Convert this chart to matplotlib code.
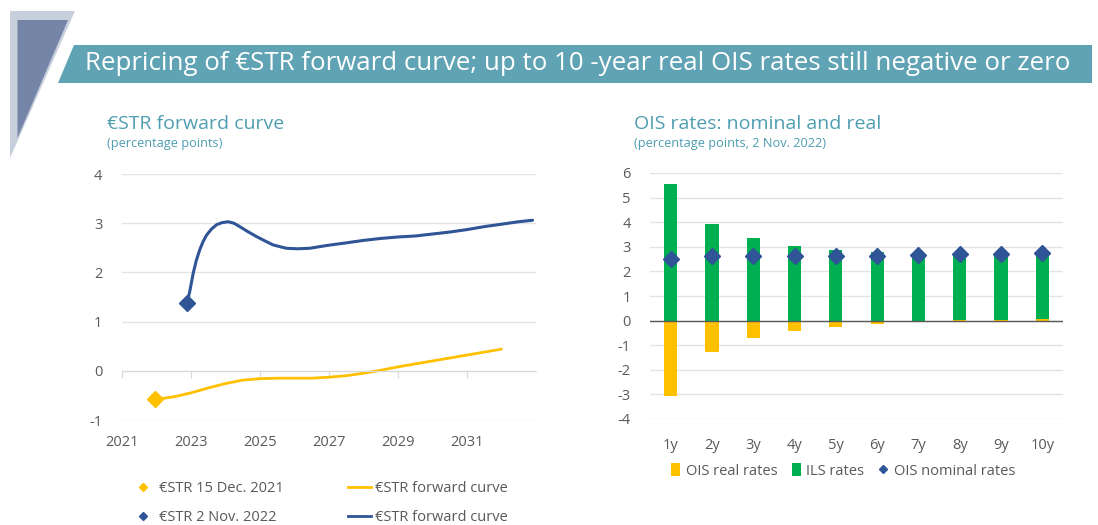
import matplotlib.pyplot as plt
from matplotlib.patches import Polygon, Patch
from matplotlib.lines import Line2D

plt.rcParams['font.family'] = ['Open Sans', 'DejaVu Sans']
plt.rcParams['axes.unicode_minus'] = False

W, H = 1098, 525

# left chart: €STR forward curves (year, pp)
fwd_2021_x = [2021.97, 2022.5, 2023.0, 2023.5, 2024.0, 2024.5, 2025.0, 2025.5, 2026.0, 2026.5,
              2027.0, 2027.5, 2028.0, 2028.5, 2029.0, 2029.5, 2030.0, 2030.5, 2031.0, 2031.5, 2032.0]
fwd_2021_y = [-0.58, -0.53, -0.45, -0.35, -0.26, -0.19, -0.16, -0.15, -0.15, -0.15,
              -0.13, -0.10, -0.05, 0.01, 0.08, 0.14, 0.20, 0.26, 0.32, 0.38, 0.44]
fwd_2022_x = [2022.9, 2022.97, 2023.07, 2023.16, 2023.26, 2023.36, 2023.46, 2023.6, 2023.75, 2023.9,
              2024.08, 2024.25, 2024.42, 2024.65, 2024.9, 2025.15, 2025.38, 2025.6, 2025.77, 2026.1,
              2026.44, 2026.97, 2027.5, 2028.0, 2028.5, 2029.0, 2029.5, 2030.0, 2030.5,
              2031.0, 2031.5, 2032.0, 2032.5, 2032.9]
fwd_2022_y = [1.40, 1.61, 1.98, 2.24, 2.46, 2.63, 2.76, 2.88, 2.97, 3.01,
              3.03, 3.00, 2.93, 2.83, 2.73, 2.64, 2.56, 2.52, 2.49, 2.48,
              2.49, 2.55, 2.60, 2.65, 2.69, 2.72, 2.74, 2.78, 2.82,
              2.87, 2.93, 2.98, 3.03, 3.06]
spot_dates = [2021.97, 2022.9]
spot_rates = [-0.58, 1.38]
year_ticks = [2021, 2023, 2025, 2027, 2029, 2031]

# right chart: OIS rates by tenor
tenors = ['1y', '2y', '3y', '4y', '5y', '6y', '7y', '8y', '9y', '10y']
ois_real = [-3.05, -1.28, -0.71, -0.42, -0.25, -0.15, -0.07, 0.01, 0.02, 0.08]
ils = [5.55, 3.92, 3.34, 3.05, 2.89, 2.79, 2.73, 2.70, 2.69, 2.67]
ois_nominal = [2.50, 2.64, 2.63, 2.63, 2.64, 2.64, 2.66, 2.71, 2.71, 2.75]

YELLOW = '#ffc000'
GREEN = '#00b050'
BLUE = '#2f5597'
TEAL = '#4e9db1'
GREY = '#595959'
GRID = '#e3e3e3'


def fx(x):
    return x / W


def fy(y):
    return 1 - y / H


fig = plt.figure(figsize=(W / 100, H / 100), dpi=100)

# decorative shapes and title banner
fig.add_artist(Polygon([(fx(10), fy(11)), (fx(75), fy(11)), (fx(10), fy(158))],
                       transform=fig.transFigure, facecolor='#c7cfdd', edgecolor='none'))
fig.add_artist(Polygon([(fx(17.5), fy(20)), (fx(68), fy(20)), (fx(17.5), fy(138))],
                       transform=fig.transFigure, facecolor='#7485a7', edgecolor='none'))
fig.add_artist(Polygon([(fx(58), fy(83)), (fx(74), fy(45)), (fx(1092), fy(45)), (fx(1092), fy(83))],
                       transform=fig.transFigure, facecolor='#5fa3b4', edgecolor='none'))
fig.text(fx(578), fy(63), 'Repricing of €STR forward curve; up to 10 -year real OIS rates still negative or zero',
         color='white', fontsize=18.6, ha='center', va='center')

fig.text(fx(107), fy(124), '€STR forward curve', color=TEAL, fontsize=14, ha='left', va='center')
fig.text(fx(107), fy(143), '(percentage points)', color=TEAL, fontsize=9.2, ha='left', va='center')
fig.text(fx(634), fy(124), 'OIS rates: nominal and real', color=TEAL, fontsize=14, ha='left', va='center')
fig.text(fx(634), fy(143), '(percentage points, 2 Nov. 2022)', color=TEAL, fontsize=9.2, ha='left', va='center')

# left chart
ax1 = fig.add_axes([fx(121.7), fy(420), fx(536 - 121.7), (420 - 174) / H])
ax1.plot(fwd_2021_x, fwd_2021_y, color=YELLOW, lw=2, solid_capstyle='round')
ax1.plot(fwd_2022_x, fwd_2022_y, color=BLUE, lw=2.2, solid_capstyle='round', solid_joinstyle='round')
ax1.plot(spot_dates[0], spot_rates[0], 'D', color=YELLOW, ms=8.5)
ax1.plot(spot_dates[1], spot_rates[1], 'D', color=BLUE, ms=8.5)
ax1.set_xlim(2021, 2033)
ax1.set_ylim(-1, 4)
ax1.set_yticks([-1, 0, 1, 2, 3, 4])
ax1.set_xticks(year_ticks)
ax1.grid(axis='y', color=GRID, lw=1)
for s in ['top', 'right', 'left']:
    ax1.spines[s].set_visible(False)
ax1.spines['bottom'].set_position(('data', 0))
ax1.spines['bottom'].set_color('#d9d9d9')
ax1.tick_params(axis='x', colors='#d9d9d9', length=5, pad=41, labelcolor=GREY, labelsize=10.5)
ax1.tick_params(axis='y', length=0, pad=14, labelcolor=GREY, labelsize=10.5)
ax1.set_axisbelow(True)

# right chart
ax2 = fig.add_axes([fx(650), fy(419), fx(1063 - 650), (419 - 173) / H])
pos = list(range(len(tenors)))
green_bottom = [max(r, 0) for r in ois_real]
ax2.bar(pos, ois_real, width=0.32, color=YELLOW, zorder=2)
ax2.bar(pos, ils, width=0.32, bottom=green_bottom, color=GREEN, zorder=2)
ax2.plot(pos, ois_nominal, 'D', color=BLUE, ms=8.5, ls='none', zorder=3)
ax2.axhline(0, color=GREY, lw=1, zorder=2.5)
ax2.set_xlim(-0.5, len(tenors) - 0.5)
ax2.set_ylim(-4, 6)
ax2.set_yticks(range(-4, 7))
ax2.set_xticks(pos, tenors)
ax2.grid(axis='y', color=GRID, lw=1)
for s in ['top', 'right', 'left', 'bottom']:
    ax2.spines[s].set_visible(False)
ax2.tick_params(axis='x', length=0, pad=14, labelcolor=GREY, labelsize=10.5)
ax2.tick_params(axis='y', length=0, pad=14, labelcolor=GREY, labelsize=10.5)
ax2.set_axisbelow(True)

# legends
left_handles = [
    Line2D([], [], marker='D', color=YELLOW, ls='none', ms=4),
    Line2D([], [], marker='D', color=BLUE, ls='none', ms=4),
    Line2D([], [], color=YELLOW, lw=2),
    Line2D([], [], color=BLUE, lw=2),
]
left_labels = ['€STR 15 Dec. 2021', '€STR 2 Nov. 2022', '€STR forward curve', '€STR forward curve']
fig.legend(left_handles, left_labels, ncol=2, frameon=False, loc='center left',
           bbox_to_anchor=(fx(118), fy(503)), fontsize=10.5, labelcolor=GREY,
           handlelength=1.6, handletextpad=0.3, columnspacing=4.4, labelspacing=0.95)

right_handles = [
    Patch(facecolor=YELLOW),
    Patch(facecolor=GREEN),
    Line2D([], [], marker='D', color=BLUE, ls='none', ms=4),
]
right_labels = ['OIS real rates', 'ILS rates', 'OIS nominal rates']
fig.legend(right_handles, right_labels, ncol=3, frameon=False, loc='center left',
           bbox_to_anchor=(fx(658), fy(471)), fontsize=10.5, labelcolor=GREY,
           handlelength=0.6, handleheight=0.9, handletextpad=0.4, columnspacing=1.0)

fig.savefig('out.png', dpi=100)
